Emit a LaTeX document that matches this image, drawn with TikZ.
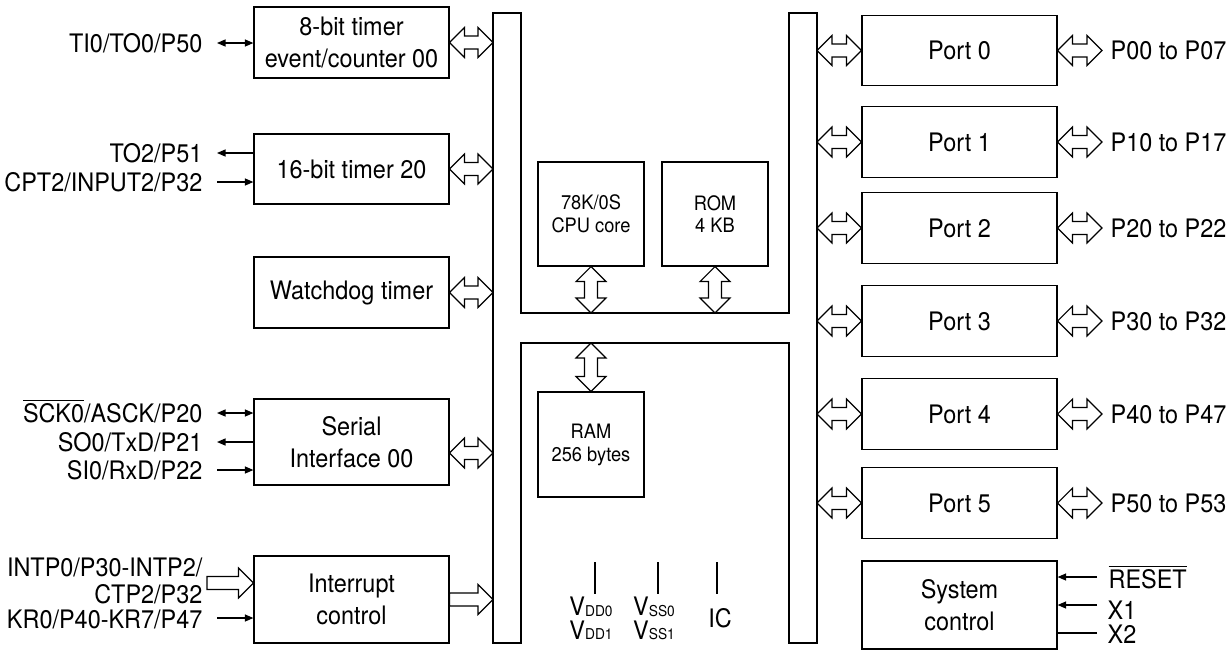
\documentclass[tikz,border=0pt]{standalone}
\usepackage{fontspec}
\setmainfont[FakeStretch=0.92]{TeX Gyre Heros}
\usetikzlibrary{arrows.meta,calc}

\newcommand\pinsub[1]{\raisebox{-0.5pt}{\fontsize{8.5}{8.5}\selectfont #1}}

\begin{document}
\begin{tikzpicture}[x=0.02cm, y=-0.02cm, line width=0.7pt,
    >={Triangle[length=1.7mm,width=1.4mm]},
    block/.style={draw, inner sep=0, minimum width=3.9cm, align=center,
                  font=\fontsize{14.5}{18.2}\selectfont},
    memblock/.style={draw, inner sep=0, minimum width=2.12cm, align=center,
                  font=\fontsize{11.3}{13}\selectfont},
    lbl/.style={inner sep=0, text height=10.4pt, text depth=0pt,
                font=\fontsize{14.5}{18}\selectfont},
    pinlbl/.style={inner sep=0, anchor=north, align=center,
                font=\fontsize{14.5}{13.6}\selectfont},
    fatH/.style={fill=white, to path={(\tikztostart) -- ++(15,-15) -- ++(0,8.5)
        -- ($(\tikztotarget)+(-15,-6.5)$) -- ++(0,-8.5) -- (\tikztotarget)
        -- ++(-15,15) -- ++(0,-8.5) -- ($(\tikztostart)+(15,6.5)$) -- ++(0,8.5) -- cycle}},
    fatV/.style={fill=white, to path={(\tikztostart) -- ++(15,15) -- ++(-8.5,0)
        -- ($(\tikztotarget)+(6.5,-15)$) -- ++(8.5,0) -- (\tikztotarget)
        -- ++(-15,-15) -- ++(8.5,0) -- ($(\tikztostart)+(-6.5,15)$) -- ++(-8.5,0) -- cycle}},
    fatR/.style={fill=white, to path={($(\tikztostart)+(0,-6.5)$)
        -- ($(\tikztotarget)+(-15,-6.5)$) -- ++(0,-8.5) -- (\tikztotarget)
        -- ++(-15,15) -- ++(0,-8.5) -- ($(\tikztostart)+(0,6.5)$) -- cycle}}]

    \useasboundingbox (0,0) rectangle (1230,650);

    % internal bus
    \draw (493,13) -- (521,13) -- (521,313) -- (789,313) -- (789,13) -- (817,13)
        -- (817,643) -- (789,643) -- (789,343) -- (521,343) -- (521,643) -- (493,643) -- cycle;
    \coordinate (lbus)   at (493,13);
    \coordinate (rbus)   at (817,13);
    \coordinate (upbus)  at (521,313);
    \coordinate (lowbus) at (521,343);

    % peripherals on the left
    \node[block, minimum height=1.42cm] (tmr8)  at (351.5,42.5)  {8-bit timer\\event/counter 00};
    \node[block, minimum height=1.4cm]  (tmr16) at (351.5,169)   {16-bit timer 20};
    \node[block, minimum height=1.42cm] (wdt)   at (351.5,292.5) {Watchdog timer};
    \node[block, minimum height=1.72cm] (sio)   at (351.5,442)   {Serial\\Interface 00};
    \node[block, minimum height=1.74cm] (intc)  at (351.5,599.5) {Interrupt\\control};

    \coordinate (sioport) at ($(sio.east)+(0,11)$);
    \draw[fatH] (tmr8.east)  to (tmr8.east -| lbus);
    \draw[fatH] (tmr16.east) to (tmr16.east -| lbus);
    \draw[fatH] (wdt.east)   to (wdt.east -| lbus);
    \draw[fatH] (sioport)    to (sioport -| lbus);
    \draw[fatR] (intc.east)  to (intc.east -| lbus);

    % external pins on the left
    \coordinate (ti0pin)  at (217,43);
    \coordinate (to2pin)  at (217,153);
    \coordinate (cpt2pin) at (217,182);
    \coordinate (sckpin)  at (217,413);
    \coordinate (so0pin)  at (217,442);
    \coordinate (si0pin)  at (217,470);
    \coordinate (intppin) at (207,583);
    \coordinate (krpin)   at (217,618);

    \node[lbl, anchor=east] (ti0)  at (203,43)  {TI0/TO0/P50};
    \node[lbl, anchor=east] (to2)  at (203,153) {TO2/P51};
    \node[lbl, anchor=east] (cpt2) at (203,182) {CPT2/INPUT2/P32};
    \node[lbl, anchor=east] (sck)  at (203,413) {$\overline{\mbox{SCK0}}$/ASCK/P20};
    \node[lbl, anchor=east] (so0)  at (203,442) {SO0/TxD/P21};
    \node[lbl, anchor=east] (si0)  at (203,470) {SI0/RxD/P22};
    \node[inner sep=0, anchor=east, align=right, font=\fontsize{14.5}{15.4}\selectfont]
        (intp) at (203,581) {INTP0/P30-INTP2/\\CTP2/P32};
    \node[lbl, anchor=east] (kr)   at (203,619) {KR0/P40-KR7/P47};

    \draw[<->] (ti0pin) -- (ti0pin -| tmr8.west);
    \draw[->] (to2pin -| tmr16.west) -- (to2pin);
    \draw[->] (cpt2pin) -- (cpt2pin -| tmr16.west);
    \draw[<->] (sckpin) -- (sckpin -| sio.west);
    \draw[->] (so0pin -| sio.west) -- (so0pin);
    \draw[->] (si0pin) -- (si0pin -| sio.west);
    \draw[fatR] (intppin) to (intppin -| intc.west);
    \draw[->] (krpin) -- (krpin -| intc.west);

    % cpu, rom and ram
    \node[memblock, minimum height=2.08cm] (cpu) at (591,214)   {78K/0S\\CPU core};
    \node[memblock, minimum height=2.08cm] (rom) at (715,214)   {ROM\\4 KB};
    \node[memblock, minimum height=2.1cm]  (ram) at (591,444.5) {RAM\\256 bytes};

    \draw[fatV] (cpu.south) to (cpu.south |- upbus);
    \draw[fatV] (rom.south) to (rom.south |- upbus);
    \draw[fatV] (ram.north |- lowbus) to (ram.north);

    % supply pins
    \coordinate (vddpin) at (595,562);
    \coordinate (vsspin) at (658,562);
    \coordinate (icpin)  at (717,562);
    \node[pinlbl] (vdd) at (591,596) {V\pinsub{DD0}\\V\pinsub{DD1}};
    \node[pinlbl] (vss) at (654,596) {V\pinsub{SS0}\\V\pinsub{SS1}};
    \node[pinlbl] (ic)  at (720,608) {IC};
    \draw[shorten >=0.05cm] (vddpin) -- (vddpin |- vdd.north);
    \draw[shorten >=0.05cm] (vsspin) -- (vsspin |- vss.north);
    \draw[shorten >=0.28cm] (icpin) -- (icpin |- ic.north);

    % ports on the right
    \foreach \i/\y/\pins in {0/50.5/{P00 to P07}, 1/142/{P10 to P17}, 2/228/{P20 to P22},
                             3/321/{P30 to P32}, 4/414/{P40 to P47}, 5/503/{P50 to P53}} {
        \node[block, minimum height=1.41cm] (port\i) at (959.5,\y) {Port \i};
        \coordinate (pin\i) at (1102,\y);
        \node[lbl, anchor=west] (pins\i) at (1110,\y) {\pins};
        \draw[fatH] (port\i.west -| rbus) to (port\i.west);
        \draw[fatH] (port\i.east) to (pin\i);
    }

    % system control
    \node[block, minimum height=1.76cm] (sys) at (959.5,605) {System\\control};
    \coordinate (rstpin) at (1097,577);
    \coordinate (x1pin)  at (1097,605);
    \coordinate (x2pin)  at (1097,633);
    \node[lbl, anchor=west] (rst) at (1108,579) {$\overline{\mbox{RESET}}$};
    \node[lbl, anchor=west] (x1)  at (1107,610) {X1};
    \node[lbl, anchor=west] (x2)  at (1107,634) {X2};
    \draw[->] (rstpin) -- (rstpin -| sys.east);
    \draw[->] (x1pin) -- (x1pin -| sys.east);
    \draw (x2pin) -- (x2pin -| sys.east);
\end{tikzpicture}
\end{document}
